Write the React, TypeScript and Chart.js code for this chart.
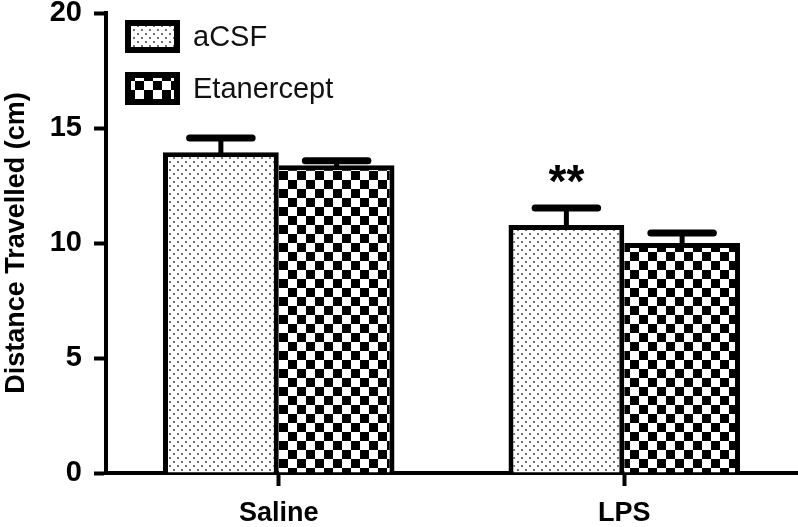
import React, { useEffect, useRef } from "react";
import { Chart, registerables } from "chart.js";

Chart.register(...registerables);

const categories = ["Saline", "LPS"];
const seriesNames = ["aCSF", "Etanercept"];
const aCSFMeans = [13.95, 10.78];
const etanerceptMeans = [13.38, 10.0];
const aCSFUpper = [14.57, 11.52];
const etanerceptUpper = [13.58, 10.43];
const yTicks = [0, 5, 10, 15, 20];
const significance = ["", "**"];

const FONT = "'Liberation Sans', Arial, Helvetica, sans-serif";

function makeDots(): CanvasPattern | string {
  const c = document.createElement("canvas");
  c.width = 8;
  c.height = 8;
  const g = c.getContext("2d");
  if (!g) return "#ddd";
  g.fillStyle = "#fff";
  g.fillRect(0, 0, 8, 8);
  g.fillStyle = "#444";
  g.beginPath();
  g.arc(2, 2, 1.0, 0, Math.PI * 2);
  g.arc(6, 6, 1.0, 0, Math.PI * 2);
  g.fill();
  return g.createPattern(c, "repeat") as CanvasPattern;
}

function makeChecker(): CanvasPattern | string {
  const s = 9;
  const c = document.createElement("canvas");
  c.width = s * 2;
  c.height = s * 2;
  const g = c.getContext("2d");
  if (!g) return "#888";
  g.fillStyle = "#fff";
  g.fillRect(0, 0, s * 2, s * 2);
  g.fillStyle = "#000";
  g.fillRect(0, 0, s, s);
  g.fillRect(s, s, s, s);
  return g.createPattern(c, "repeat") as CanvasPattern;
}

export default function App() {
  const ref = useRef<HTMLCanvasElement | null>(null);

  useEffect(() => {
    if (!ref.current) return;
    const dots = makeDots();
    const checker = makeChecker();
    const patterns = [dots, checker];
    const uppers = [aCSFUpper, etanerceptUpper];

    const errorPlugin = {
      id: "errorBars",
      afterDatasetsDraw(chart: any) {
        const ctx = chart.ctx;
        const yScale = chart.scales.y;
        ctx.save();
        ctx.strokeStyle = "#000";
        chart.data.datasets.forEach((_ds: any, i: number) => {
          const meta = chart.getDatasetMeta(i);
          meta.data.forEach((el: any, j: number) => {
            const yErr = yScale.getPixelForValue(uppers[i][j]);
            const half = el.width * 0.27;
            ctx.lineCap = "butt";
            ctx.lineWidth = 5;
            ctx.beginPath();
            ctx.moveTo(el.x, el.y + 3);
            ctx.lineTo(el.x, yErr);
            ctx.stroke();
            ctx.lineCap = "round";
            ctx.lineWidth = 7;
            ctx.beginPath();
            ctx.moveTo(el.x - half, yErr);
            ctx.lineTo(el.x + half, yErr);
            ctx.stroke();
            if (i === 0 && significance[j]) {
              ctx.fillStyle = "#000";
              ctx.font = `bold 46px ${FONT}`;
              ctx.textAlign = "center";
              ctx.textBaseline = "alphabetic";
              ctx.fillText(significance[j], el.x, yErr - 11);
            }
          });
        });
        ctx.restore();
      },
      afterDraw(chart: any) {
        const ctx = chart.ctx;
        const left = chart.chartArea.left;
        ctx.save();
        chart.data.datasets.forEach((ds: any, i: number) => {
          const bx = left + 19;
          const by = 20 + i * 52;
          const bw = 55;
          const bh = 33;
          ctx.fillStyle = "#000";
          ctx.fillRect(bx, by, bw, bh);
          ctx.fillStyle = patterns[i];
          ctx.fillRect(bx + 6, by + 6, bw - 12, bh - 12);
          ctx.fillStyle = "#111";
          ctx.font = `29px ${FONT}`;
          ctx.textAlign = "left";
          ctx.textBaseline = "middle";
          ctx.fillText(ds.label, bx + 68, by + bh / 2 + 1);
        });
        ctx.restore();
      },
    };

    const chart = new Chart(ref.current, {
      type: "bar",
      data: {
        labels: categories,
        datasets: [
          {
            label: seriesNames[0],
            data: aCSFMeans,
            backgroundColor: dots as any,
            borderColor: "#000",
            borderWidth: { top: 5, left: 5, right: 5, bottom: 0 } as any,
            borderSkipped: false,
            categoryPercentage: 0.67,
            barPercentage: 1.0,
          },
          {
            label: seriesNames[1],
            data: etanerceptMeans,
            backgroundColor: checker as any,
            borderColor: "#000",
            borderWidth: { top: 5, left: 0, right: 5, bottom: 0 } as any,
            borderSkipped: false,
            categoryPercentage: 0.67,
            barPercentage: 1.0,
          },
        ],
      },
      options: {
        animation: false,
        responsive: true,
        maintainAspectRatio: false,
        layout: { padding: { top: 13, right: 1, left: 0, bottom: 0 } },
        plugins: {
          legend: { display: false },
          tooltip: { enabled: false },
        },
        scales: {
          x: {
            offset: true,
            grid: {
              display: true,
              offset: false,
              drawOnChartArea: false,
              drawTicks: true,
              tickLength: 13,
              tickWidth: 4,
              tickColor: "#000",
            },
            border: { display: true, color: "#000", width: 4 },
            ticks: {
              color: "#000",
              font: { family: FONT, size: 27, weight: "bold" },
              padding: 11,
            },
            afterFit(scale: any) {
              scale.height = 54;
            },
          },
          y: {
            min: 0,
            max: 20,
            afterBuildTicks(scale: any) {
              scale.ticks = yTicks.map((v) => ({ value: v }));
            },
            grid: {
              display: true,
              drawOnChartArea: false,
              drawTicks: true,
              tickLength: 12,
              tickWidth: 4,
              tickColor: "#000",
            },
            border: { display: true, color: "#000", width: 4 },
            ticks: {
              color: "#000",
              font: { family: FONT, size: 29, weight: "bold" },
              padding: 12,
            },
            title: {
              display: true,
              text: "Distance Travelled (cm)",
              color: "#000",
              font: { family: FONT, size: 27, weight: "bold" },
              padding: { top: 0, bottom: 0 },
            },
            afterFit(scale: any) {
              scale.width = 106;
              scale.paddingTop = 0;
              scale.paddingBottom = 0;
            },
          },
        },
      },
      plugins: [errorPlugin],
    });
    return () => chart.destroy();
  }, []);

  return (
    <div style={{ position: "fixed", left: 0, top: 0, width: 798, height: 527, background: "#fff" }}>
      <canvas ref={ref} />
    </div>
  );
}
